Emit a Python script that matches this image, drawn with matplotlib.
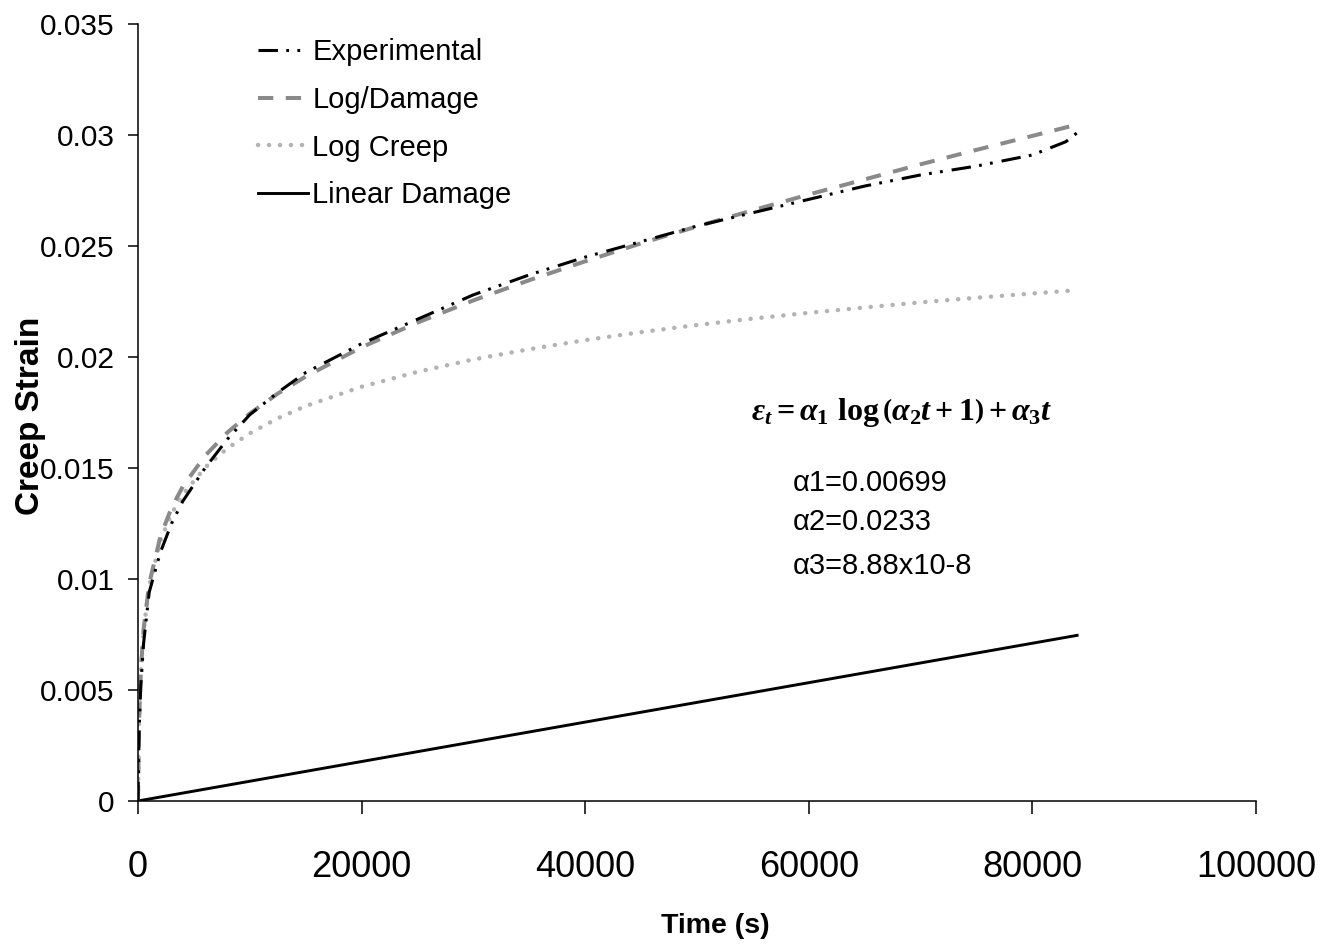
import matplotlib
matplotlib.use("Agg")
import matplotlib.pyplot as plt
from matplotlib.ticker import MultipleLocator, FormatStrFormatter

plt.rcParams['font.family'] = ['Liberation Sans', 'DejaVu Sans']
plt.rcParams['lines.scale_dashes'] = False
plt.rcParams['mathtext.fontset'] = 'custom'
plt.rcParams['mathtext.rm'] = 'Liberation Serif:bold'
plt.rcParams['mathtext.it'] = 'Liberation Serif:italic:bold'
plt.rcParams['mathtext.bf'] = 'Liberation Serif:bold'

# time axis (s)
time_s = [0, 100, 250, 500, 1000, 2000, 3000, 4000, 6000, 8000, 10000, 12500, 15000,
          20000, 25000, 30000, 35000, 40000, 45000, 50000, 55000, 60000, 65000,
          70000, 75000, 80000, 84000]
exp_time = [0, 100, 250, 500, 1000, 2000, 3000, 4000, 6000, 8000, 10000, 12500, 15000,
            20000, 25000, 30000, 35000, 40000, 45000, 50000, 55000, 60000, 65000,
            70000, 75000, 80000, 81500, 83000, 84000]

# creep strain
experimental = [0, 0.0032, 0.0052, 0.0071, 0.0094, 0.0112, 0.0125, 0.0135, 0.0150,
                0.0163, 0.0174, 0.0184, 0.0193, 0.0206, 0.0217, 0.0228, 0.0237,
                0.0245, 0.0252, 0.0259, 0.0265, 0.0271, 0.0277, 0.0282, 0.0286,
                0.0291, 0.0294, 0.0297, 0.0301]
log_damage = [0, 0.00366, 0.00585, 0.00774, 0.00978, 0.01191, 0.01321, 0.01416,
              0.01555, 0.01660, 0.01745, 0.01835, 0.01912, 0.02044, 0.02155,
              0.02255, 0.02346, 0.02431, 0.02512, 0.02588, 0.02661, 0.02732,
              0.02800, 0.02868, 0.02933, 0.02996, 0.03047]
log_creep = [0, 0.00365, 0.00583, 0.00770, 0.00969, 0.01173, 0.01294, 0.01380,
             0.01502, 0.01589, 0.01656, 0.01724, 0.01779, 0.01866, 0.01933,
             0.01989, 0.02035, 0.02076, 0.02112, 0.02144, 0.02173, 0.02199,
             0.02223, 0.02246, 0.02267, 0.02286, 0.02301]
linear_time = [0, 84000]
linear_damage = [0, 0.00746]

equation = r"$\varepsilon_t = \alpha_1\ \log\left(\alpha_2 t+1\right)+\alpha_3 t$"
alpha_labels = ["α1=0.00699", "α2=0.0233", "α3=8.88x10-8"]

fig = plt.figure(figsize=(13.36, 9.49), dpi=100)
ax = fig.add_axes([0.1033, 0.156, 0.8368, 0.8187])

l_lin, = ax.plot(linear_time, linear_damage, color='black', lw=2.1,
                 label='Linear Damage')
l_creep, = ax.plot(time_s, log_creep, color='#b3b3b3', lw=3.2,
                   dashes=(0.1, 7.8), dash_capstyle='round', label='Log Creep')
l_dam, = ax.plot(time_s, log_damage, color='#8a8a8a', lw=2.9,
                 dashes=(11, 9), label='Log/Damage')
l_exp, = ax.plot(exp_time, experimental, color='black', lw=2.2,
                 dashes=(14, 6, 2, 6, 2, 6.5), label='Experimental')

ax.set_xlim(0, 100000)
ax.set_ylim(0, 0.035)
ax.xaxis.set_major_locator(MultipleLocator(20000))
ax.yaxis.set_major_locator(MultipleLocator(0.005))
ax.yaxis.set_major_formatter(FormatStrFormatter('%g'))

for side in ['top', 'right']:
    ax.spines[side].set_visible(False)
for side in ['left', 'bottom']:
    ax.spines[side].set_linewidth(1.1)

ax.tick_params(axis='y', direction='out', length=7, width=1.1, pad=10, labelsize=21.5)
ax.tick_params(axis='x', direction='out', length=9, width=1.1, pad=26, labelsize=26)

ax.set_xlabel('Time (s)', fontsize=20.5, fontweight='bold', va='center')
ax.xaxis.set_label_coords(0.516, -0.161)
ax.set_ylabel('Creep Strain', fontsize=24, fontweight='bold', va='center')
ax.yaxis.set_label_coords(-0.0966, 0.4955)

ax.legend(handles=[l_exp, l_dam, l_creep, l_lin], loc='upper left',
          bbox_to_anchor=(0.107, 0.982), frameon=False, fontsize=21,
          handlelength=1.71, handletextpad=0.17, labelspacing=0.68,
          borderpad=0, borderaxespad=0)

ax.text(68300, 0.01752, equation, fontsize=23, ha='center', va='center')
for label, y in zip(alpha_labels, [0.01432, 0.01257, 0.01059]):
    ax.text(58600, y, label, fontsize=21, ha='left', va='center')

fig.savefig('out.png', dpi=100)
